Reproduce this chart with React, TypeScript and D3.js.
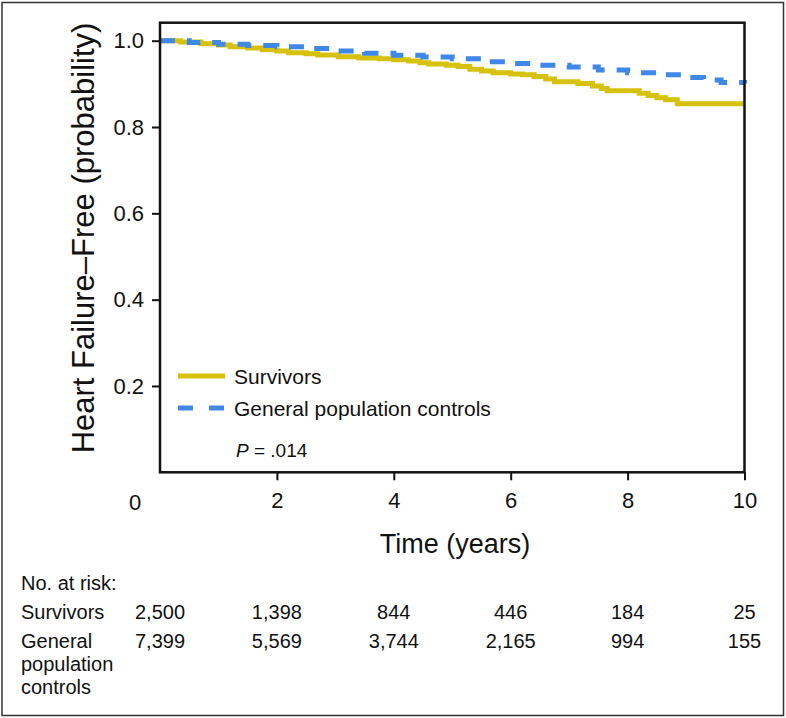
import React, { useRef, useEffect } from "react";
import * as d3 from "d3";

// Kaplan-Meier style curves
const survivorTimes = [0, 0.35, 0.7, 1.0, 1.2, 1.5, 1.75, 2.0, 2.2, 2.5, 2.7, 3.05, 3.4, 3.75, 4.0, 4.25, 4.45, 4.6, 4.9, 5.1, 5.3, 5.5, 5.7, 6.0, 6.2, 6.4, 6.6, 6.75, 7.15, 7.4, 7.55, 7.65, 8.2, 8.35, 8.5, 8.65, 8.85, 10];
const survivorValues = [1.0, 0.997, 0.993, 0.99, 0.986, 0.983, 0.979, 0.976, 0.972, 0.97, 0.967, 0.963, 0.96, 0.958, 0.956, 0.953, 0.949, 0.946, 0.943, 0.94, 0.934, 0.93, 0.926, 0.923, 0.921, 0.917, 0.911, 0.905, 0.901, 0.895, 0.889, 0.884, 0.878, 0.873, 0.868, 0.863, 0.854, 0.854];

const controlTimes = [0, 0.5, 1.0, 1.5, 2.0, 2.5, 3.0, 3.5, 4.0, 4.5, 5.0, 5.5, 6.0, 6.5, 7.0, 7.5, 8.0, 8.5, 9.0, 9.3, 9.6, 10];
const controlValues = [1.0, 0.996, 0.992, 0.989, 0.986, 0.982, 0.976, 0.971, 0.966, 0.962, 0.958, 0.951, 0.947, 0.943, 0.939, 0.932, 0.926, 0.921, 0.915, 0.909, 0.903, 0.901];

const xTicks = [2, 4, 6, 8, 10];
const yTicks = [0.2, 0.4, 0.6, 0.8, 1.0];

// number at risk table
const riskTimes = [0, 2, 4, 6, 8, 10];
const riskSurvivors = ["2,500", "1,398", "844", "446", "184", "25"];
const riskControls = ["7,399", "5,569", "3,744", "2,165", "994", "155"];

const YELLOW = "#d6c20c";
const BLUE = "#3f88e8";
const FONT = "'Liberation Sans', Arial, Helvetica, sans-serif";

export default function App() {
  const svgRef = useRef<SVGSVGElement>(null);

  useEffect(() => {
    document.body.style.margin = "0";
    const svg = d3.select(svgRef.current);
    svg.selectAll("*").remove();

    const width = 786;
    const height = 718;
    const left = 160;
    const right = 744.5;
    const top = 22.7;
    const bottom = 472.3;

    const x = d3.scaleLinear().domain([0, 10]).range([left, right]);
    const y = d3.scaleLinear().domain([0, 1]).range([bottom, 40.7]);

    // outer border around whole figure
    svg
      .append("rect")
      .attr("x", 2)
      .attr("y", 2.5)
      .attr("width", width - 4.5)
      .attr("height", height - 5)
      .attr("fill", "none")
      .attr("stroke", "#333")
      .attr("stroke-width", 1.5);

    // curves
    const line = d3
      .line<[number, number]>()
      .x((d) => x(d[0]))
      .y((d) => y(d[1]))
      .curve(d3.curveStepAfter);

    const survivors = survivorTimes.map((t, i) => [t, survivorValues[i]] as [number, number]);
    const controls = controlTimes.map((t, i) => [t, controlValues[i]] as [number, number]);

    svg
      .append("path")
      .attr("d", line(survivors))
      .attr("fill", "none")
      .attr("stroke", YELLOW)
      .attr("stroke-width", 5);

    svg
      .append("path")
      .attr("d", line(controls))
      .attr("fill", "none")
      .attr("stroke", BLUE)
      .attr("stroke-width", 5)
      .attr("stroke-dasharray", "15,12");

    // plot frame
    svg
      .append("rect")
      .attr("x", left)
      .attr("y", top)
      .attr("width", right - left)
      .attr("height", bottom - top)
      .attr("fill", "none")
      .attr("stroke", "#111")
      .attr("stroke-width", 2.5);

    // y axis
    const yAxis = d3
      .axisLeft(y)
      .tickValues(yTicks)
      .tickSize(8)
      .tickPadding(8)
      .tickFormat(d3.format(".1f"));
    const gy = svg.append("g").attr("transform", `translate(${left},0)`).call(yAxis);
    gy.select(".domain").remove();
    gy.selectAll("line").attr("stroke", "#111").attr("stroke-width", 2);
    gy.selectAll("text").attr("font-family", FONT).attr("font-size", 22).attr("fill", "#111");

    // x axis
    const xAxis = d3.axisBottom(x).tickValues(xTicks).tickSize(8).tickPadding(12);
    const gx = svg.append("g").attr("transform", `translate(0,${bottom})`).call(xAxis);
    gx.select(".domain").remove();
    gx.selectAll("line").attr("stroke", "#111").attr("stroke-width", 2);
    gx.selectAll("text").attr("font-family", FONT).attr("font-size", 22).attr("fill", "#111");

    // the 0 label sits a little left of the origin
    svg
      .append("text")
      .attr("x", x(0) - 25)
      .attr("y", bottom + 38)
      .attr("text-anchor", "middle")
      .attr("font-family", FONT)
      .attr("font-size", 22)
      .attr("fill", "#111")
      .text("0");

    // axis titles
    svg
      .append("text")
      .attr("transform", `translate(94,238) rotate(-90)`)
      .attr("text-anchor", "middle")
      .attr("font-family", FONT)
      .attr("font-size", 31)
      .attr("fill", "#111")
      .text("Heart Failure\u2013Free (probability)");

    svg
      .append("text")
      .attr("x", 455)
      .attr("y", 553)
      .attr("text-anchor", "middle")
      .attr("font-family", FONT)
      .attr("font-size", 27)
      .attr("fill", "#111")
      .text("Time (years)");

    // legend
    const legend = svg.append("g").attr("font-family", FONT).attr("fill", "#111");
    legend
      .append("line")
      .attr("x1", 178)
      .attr("x2", 225)
      .attr("y1", 376)
      .attr("y2", 376)
      .attr("stroke", YELLOW)
      .attr("stroke-width", 5);
    legend
      .append("line")
      .attr("x1", 178)
      .attr("x2", 225)
      .attr("y1", 408)
      .attr("y2", 408)
      .attr("stroke", BLUE)
      .attr("stroke-width", 5)
      .attr("stroke-dasharray", "15,16");
    legend.append("text").attr("x", 234).attr("y", 383.5).attr("font-size", 21).text("Survivors");
    legend
      .append("text")
      .attr("x", 234)
      .attr("y", 415.5)
      .attr("font-size", 21)
      .text("General population controls");
    const p = legend.append("text").attr("x", 236).attr("y", 456.5).attr("font-size", 19);
    p.append("tspan").attr("font-style", "italic").text("P");
    p.append("tspan").text(" = .014");

    // number at risk
    const table = svg.append("g").attr("font-family", FONT).attr("font-size", 20).attr("fill", "#111");
    table.append("text").attr("x", 21).attr("y", 590).text("No. at risk:");
    table.append("text").attr("x", 21).attr("y", 619).text("Survivors");
    table.append("text").attr("x", 21).attr("y", 648).text("General");
    table.append("text").attr("x", 21).attr("y", 671).text("population");
    table.append("text").attr("x", 21).attr("y", 694).text("controls");

    table
      .selectAll(".risk-surv")
      .data(riskTimes)
      .join("text")
      .attr("class", "risk-surv")
      .attr("x", (t) => x(t))
      .attr("y", 619)
      .attr("text-anchor", "middle")
      .text((t, i) => riskSurvivors[i]);

    table
      .selectAll(".risk-ctrl")
      .data(riskTimes)
      .join("text")
      .attr("class", "risk-ctrl")
      .attr("x", (t) => x(t))
      .attr("y", 648)
      .attr("text-anchor", "middle")
      .text((t, i) => riskControls[i]);
  }, []);

  return <svg ref={svgRef} width={786} height={718} style={{ display: "block", background: "#fff" }} />;
}
